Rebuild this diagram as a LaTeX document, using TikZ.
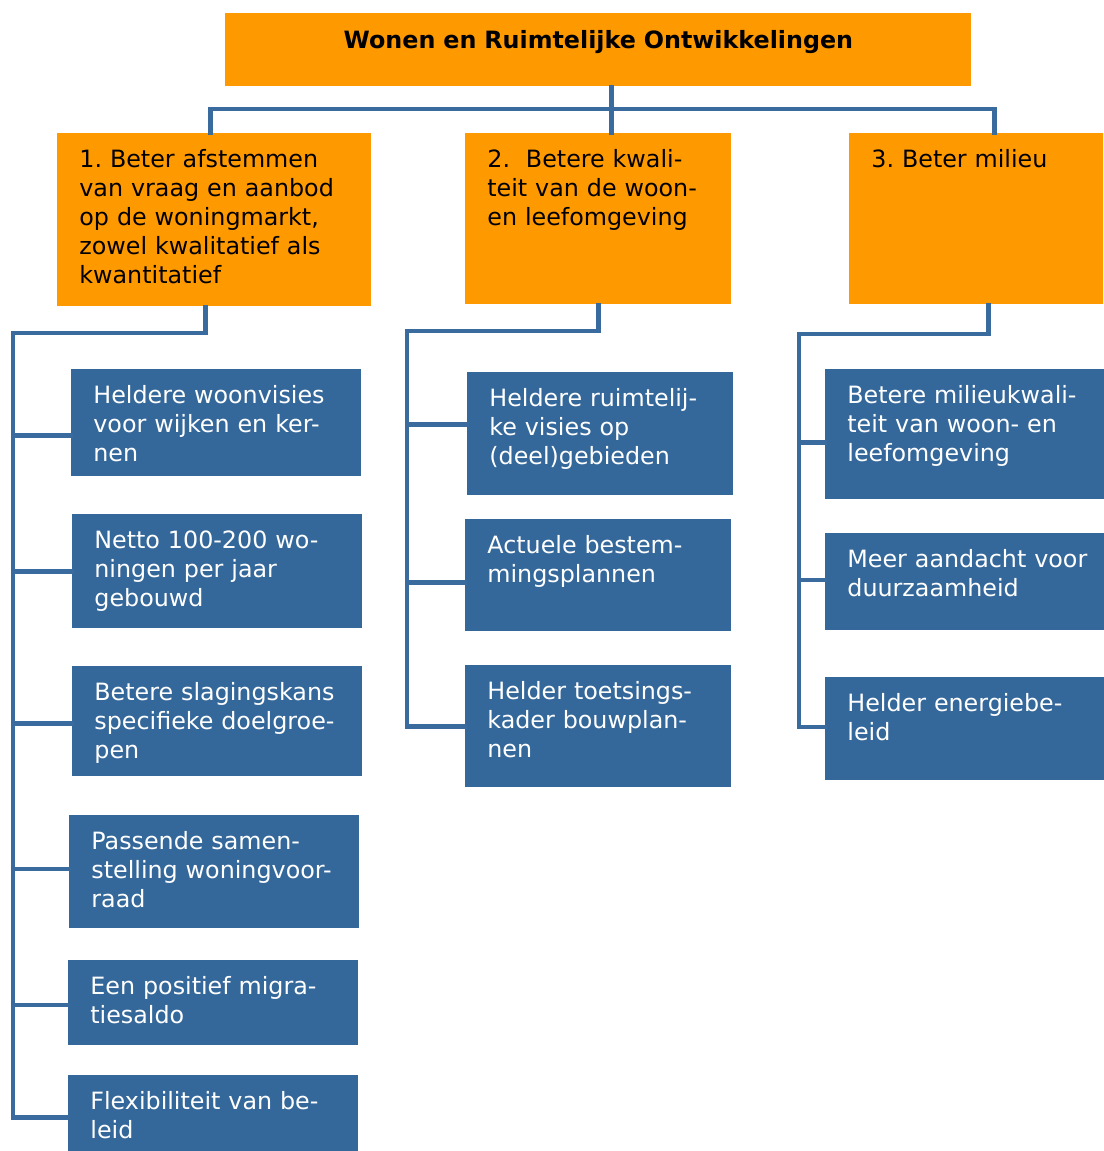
\documentclass[tikz,border=0pt]{standalone}
\usepackage{fontspec}
\setmainfont{DejaVu Sans}
\frenchspacing
\definecolor{goalorange}{HTML}{FF9900}
\definecolor{subblue}{HTML}{35689A}
\definecolor{treeline}{HTML}{3A6B9F}

\begin{document}
\begin{tikzpicture}[x=0.5pt,y=-0.5pt,
    box/.style={rectangle,anchor=north west,inner xsep=11pt,inner ysep=0pt,
                text height=17pt,align=left,font=\fontsize{11.9}{14.5}\selectfont},
    goal/.style={box,fill=goalorange,text=black},
    sub/.style={box,fill=subblue,text=white},
    link/.style={draw=treeline,line width=2.2pt,line cap=rect}]
\useasboundingbox (0,0) rectangle (1103,1151);

% hoofdthema
\node[goal,font=\bfseries\fontsize{11.9}{14.5}\selectfont,align=center,
      text width=351pt,text height=17.5pt,text depth=19pt] (top) at (225,13)
      {Wonen en Ruimtelijke Ontwikkelingen};

% doelen
\node[goal,text width=135pt,text depth=69.5pt] (aim1) at (57,133)
      {1. Beter afstemmen\\van vraag en aanbod\\op de woningmarkt,\\zowel kwalitatief als\\kwantitatief};
\node[goal,text width=111pt,text depth=68.5pt] (aim2) at (465,133)
      {2.\ \ Betere kwali-\\teit van de woon-\\en leefomgeving};
\node[goal,text width=105pt,text depth=68.5pt] (aim3) at (849,133)
      {3. Beter milieu};

% subdoelen 1
\node[sub,text width=123pt,text depth=36.5pt] (wv) at (71,369)
      {Heldere woonvisies\\voor wijken en ker-\\nen};
\node[sub,text width=123pt,text depth=40pt] (netto) at (72,514)
      {Netto 100-200 wo-\\ningen per jaar\\gebouwd};
\node[sub,text width=123pt,text depth=38pt] (slag) at (72,666)
      {Betere slagingskans\\specifieke doelgroe-\\pen};
\node[sub,text width=123pt,text depth=39.5pt] (samen) at (69,815)
      {Passende samen-\\stelling woningvoor-\\raad};
\node[sub,text width=123pt,text depth=25.5pt] (migr) at (68,960)
      {Een positief migra-\\tiesaldo};
\node[sub,text width=123pt,text depth=21pt] (flex) at (68,1075)
      {Flexibiliteit van be-\\leid};

% subdoelen 2
\node[sub,text width=111pt,text depth=44.5pt] (ruimte) at (467,372)
      {Heldere ruimtelij-\\ke visies op\\(deel)gebieden};
\node[sub,text width=111pt,text depth=39pt] (bestem) at (465,519)
      {Actuele bestem-\\mingsplannen};
\node[sub,text width=111pt,text depth=44pt] (toets) at (465,665)
      {Helder toetsings-\\kader bouwplan-\\nen};

% subdoelen 3 (lopen door tot de rand)
\node[sub,text width=128pt,text depth=48pt] (milieu) at (825,369)
      {Betere milieukwali-\\teit van woon- en\\leefomgeving};
\node[sub,text width=128pt,text depth=31.5pt] (duurz) at (825,533)
      {Meer aandacht voor\\duurzaamheid};
\node[sub,text width=128pt,text depth=34.5pt] (energie) at (825,677)
      {Helder energiebe-\\leid};

% verbindingen
\coordinate (bar) at (611,109);
\coordinate (lspine) at (13,333);
\coordinate (mspine) at (407,331);
\coordinate (rspine) at (799,334);

\draw[link] ([xshift=6.5pt]top.south) -- ([xshift=6.5pt]aim2.north);
\draw[link] ([xshift=-2pt]aim1.north) |- (bar) -| ([xshift=9pt]aim3.north);

\draw[link] ([xshift=-4.5pt]aim1.south) |- (lspine);
\foreach \b/\s in {wv/-6.25pt,netto/0pt,slag/-1pt,samen/1.5pt,migr/-1pt,flex/-2pt}
    \draw[link] ([yshift=\s]\b.west) -| (lspine);

\draw[link] (aim2.south) |- (mspine);
\foreach \b/\s in {ruimte/4.75pt,bestem/-3.5pt,toets/0pt}
    \draw[link] ([yshift=\s]\b.west) -| (mspine);

\draw[link] ([xshift=6pt]aim3.south) |- (rspine);
\foreach \b/\s in {milieu/-4pt,duurz/1pt,energie/1pt}
    \draw[link] ([yshift=\s]\b.west) -| (rspine);
\end{tikzpicture}
\end{document}
